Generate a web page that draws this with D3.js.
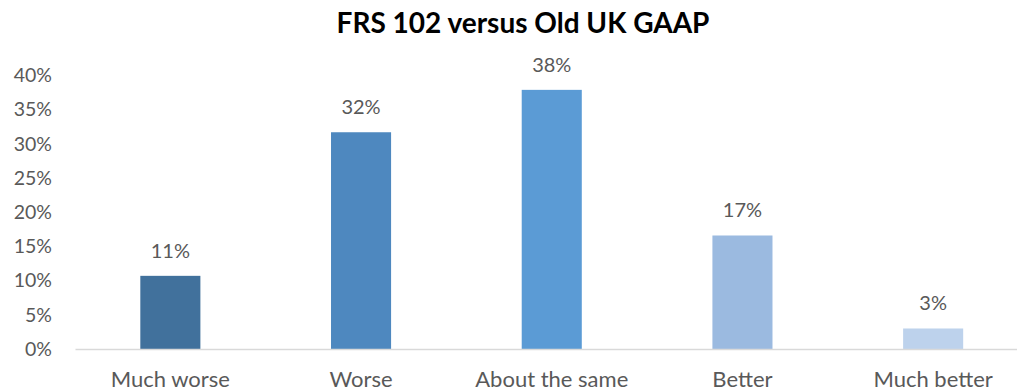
<!DOCTYPE html>
<html>
<head>
<meta charset="utf-8">
<script src="https://cdn.jsdelivr.net/npm/d3@7"></script>
<style>
  html, body { margin: 0; padding: 0; background: #fff; }
  svg { display: block; }
  text { font-family: Lato, "Open Sans", sans-serif; }
</style>
</head>
<body>
<svg id="chart" width="1017" height="392"></svg>
<script>
// Survey responses: how FRS 102 compares with old UK GAAP
const categories = ["Much worse", "Worse", "About the same", "Better", "Much better"];
const shares = [0.107, 0.317, 0.379, 0.166, 0.030];
const barColors = ["#41719C", "#4E88BF", "#5B9BD5", "#9BBAE0", "#BDD2EC"];
const yTicks = [0, 0.05, 0.10, 0.15, 0.20, 0.25, 0.30, 0.35, 0.40];
const title = "FRS 102 versus Old UK GAAP";

const svg = d3.select("#chart");
const W = 1017, H = 392;
const margin = { top: 75.5, right: -11.5, bottom: 43, left: 75 };

const x = d3.scaleBand()
  .domain(categories)
  .range([margin.left, W - margin.right])
  .padding(0);

const y = d3.scaleLinear()
  .domain([0, 0.40])
  .range([H - margin.bottom, margin.top]);

const barW = x.bandwidth() * 0.315;
const textColor = "#595959";
const pct = d3.format(".0%");

// Title
svg.append("text")
  .attr("x", 523)
  .attr("y", 33)
  .attr("text-anchor", "middle")
  .attr("font-size", 28)
  .attr("font-weight", "bold")
  .attr("fill", "#000")
  .text(title);

// Y axis labels (no axis line or gridlines)
const yAxis = d3.axisLeft(y)
  .tickValues(yTicks)
  .tickFormat(d3.format(".0%"))
  .tickSize(0)
  .tickPadding(0);

const yg = svg.append("g")
  .attr("transform", "translate(52,0)")
  .call(yAxis);
yg.select(".domain").remove();
yg.selectAll("text")
  .attr("font-size", 19.5)
  .attr("fill", textColor)
  .attr("font-family", "Lato, sans-serif");

// Bars
svg.append("g")
  .selectAll("rect")
  .data(categories)
  .join("rect")
  .attr("x", d => x(d) + x.bandwidth() / 2 - barW / 2)
  .attr("width", barW)
  .attr("y", (d, i) => y(shares[i]))
  .attr("height", (d, i) => y(0) - y(shares[i]))
  .attr("fill", (d, i) => barColors[i]);

// Value labels
svg.append("g")
  .selectAll("text")
  .data(categories)
  .join("text")
  .attr("x", d => x(d) + x.bandwidth() / 2)
  .attr("y", (d, i) => y(shares[i]) - 18)
  .attr("text-anchor", "middle")
  .attr("font-size", 20)
  .attr("fill", textColor)
  .text((d, i) => pct(shares[i]));

// X axis baseline and category labels
const xAxis = d3.axisBottom(x).tickSize(0).tickPadding(0);
const xg = svg.append("g")
  .attr("transform", `translate(0,${y(0)})`)
  .call(xAxis);
xg.select(".domain")
  .attr("stroke", "#D9D9D9")
  .attr("stroke-width", 1.5);
xg.selectAll("text")
  .attr("font-size", 22)
  .attr("fill", textColor)
  .attr("font-family", "Lato, sans-serif")
  .attr("dy", null)
  .attr("y", 38);
</script>
</body>
</html>
